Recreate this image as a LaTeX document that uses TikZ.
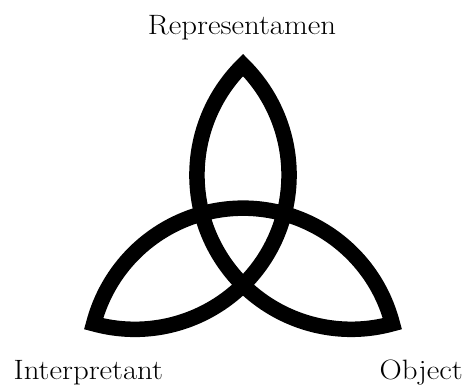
\documentclass[tikz,border=0pt]{standalone}
\usepackage{fontspec}
\setmainfont{Latin Modern Roman}[FakeStretch=1.1]
\usepackage{tikz}

\begin{document}
\begin{tikzpicture}[
  x=1pt, y=1pt,
  knot/.style={draw=black, line width=15.5pt, line join=miter, line cap=round},
  lbl/.style={font=\fontsize{28}{34}\selectfont, inner sep=0pt, anchor=base}
]
\useasboundingbox (-243,-147.5) rectangle (219,237.5);

%% ── TRIQUETRA: three arcs, one per circle ──
\coordinate (O) at (0,0);
\draw[knot] ([shift={(30:125)}]210:154.3)
  arc[start angle=210, end angle=285.45, radius=154.3pt]
  arc[start angle=14.55, end angle=165.45, radius=154.3pt]
  arc[start angle=254.55, end angle=405.45, radius=154.3pt]
  arc[start angle=134.55, end angle=210, radius=154.3pt];

%% ── LABELS ──
\node[lbl] (Rep) at (-1,203.2) {Representamen};
\node[lbl] (Int) at (-154.6,-141.8) {Interpretant};
\node[lbl] (Obj) at (178.2,-141.8) {Object};

\end{tikzpicture}
\end{document}
